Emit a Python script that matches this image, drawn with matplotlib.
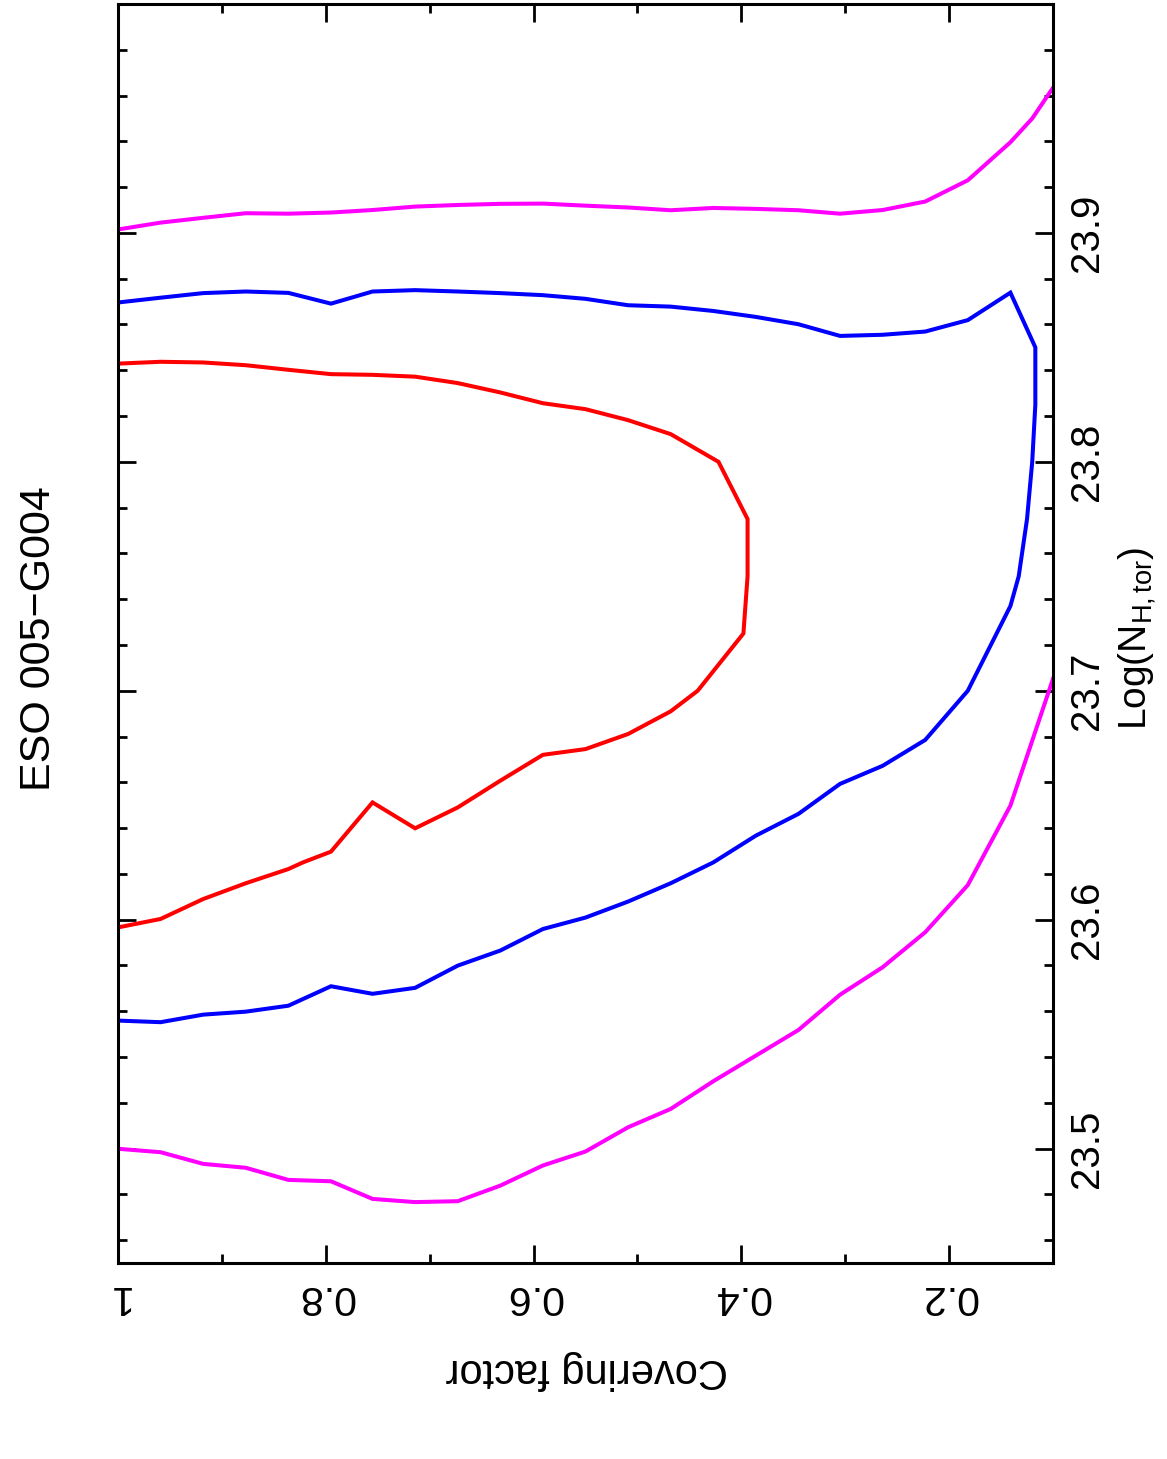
import matplotlib
matplotlib.use("Agg")
import matplotlib.pyplot as plt
from matplotlib.ticker import FixedLocator

plt.rcParams['font.family'] = ['Liberation Sans', 'DejaVu Sans']
plt.rcParams['mathtext.fontset'] = 'custom'
plt.rcParams['mathtext.rm'] = 'Liberation Sans'
plt.rcParams['mathtext.it'] = 'Liberation Sans:italic'

# ---------------- data ----------------
title = "ESO 005\u2212G004"
x_label = "Covering factor"
y_label = r"Log(N$_{\rm H,tor}$)"

cf_ticks = [1.0, 0.8, 0.6, 0.4, 0.2]
cf_ticklabels = ["1", "0.8", "0.6", "0.4", "0.2"]
cf_minor = [0.9, 0.7, 0.5, 0.3]
nh_ticks = [23.5, 23.6, 23.7, 23.8, 23.9]
nh_ticklabels = ["23.5", "23.6", "23.7", "23.8", "23.9"]
nh_minor = [23.46, 23.48, 23.52, 23.54, 23.56, 23.58, 23.62, 23.64, 23.66, 23.68,
            23.72, 23.74, 23.76, 23.78, 23.82, 23.84, 23.86, 23.88,
            23.92, 23.94, 23.96, 23.98]

# red contour
red_cf = [1.0, 0.959, 0.918, 0.877, 0.836, 0.795, 0.755, 0.714, 0.673, 0.632, 0.591, 0.55,
          0.509, 0.468, 0.422, 0.394, 0.394, 0.398, 0.442, 0.468, 0.509, 0.55, 0.591, 0.632,
          0.673, 0.714, 0.755, 0.795, 0.822, 0.836, 0.877, 0.918, 0.959, 1.0]
red_nh = [23.8429, 23.8437, 23.8434, 23.8422, 23.8402, 23.8383, 23.838, 23.8372, 23.8344,
          23.8303, 23.8256, 23.823, 23.8182, 23.8121, 23.80, 23.775, 23.75, 23.725, 23.70,
          23.691, 23.6811, 23.6745, 23.672, 23.6607, 23.649, 23.6399, 23.6512, 23.6297,
          23.625, 23.6221, 23.6159, 23.609, 23.6003, 23.5966]

# blue contour
blue_cf = [1.0, 0.959, 0.918, 0.877, 0.836, 0.795, 0.755, 0.714, 0.673, 0.632, 0.591, 0.55,
           0.509, 0.468, 0.427, 0.386, 0.345, 0.305, 0.264, 0.223, 0.182, 0.141,
           0.117, 0.117, 0.120, 0.125, 0.133, 0.141,
           0.182, 0.223, 0.264, 0.305, 0.345, 0.386, 0.427, 0.468, 0.509, 0.55, 0.591,
           0.632, 0.673, 0.714, 0.755, 0.795, 0.836, 0.877, 0.918, 0.959, 1.0]
blue_nh = [23.8696, 23.8717, 23.8737, 23.8744, 23.8738, 23.8691, 23.8744, 23.875, 23.8744,
           23.8737, 23.8728, 23.8712, 23.8684, 23.8678, 23.8659, 23.8633, 23.8601, 23.855,
           23.8555, 23.8569, 23.8619, 23.8739,
           23.85, 23.825, 23.80, 23.775, 23.75, 23.737,
           23.70, 23.6785, 23.6672, 23.6593, 23.6462, 23.6367, 23.625, 23.6159, 23.6079,
           23.6009, 23.5959, 23.5865, 23.5799, 23.5702, 23.5676, 23.5709, 23.5624, 23.5598,
           23.5585, 23.5552, 23.5559]

# magenta contour (two open branches)
mag_upper_cf = [1.0, 0.959, 0.918, 0.877, 0.836, 0.795, 0.755, 0.714, 0.673, 0.632, 0.591,
                0.55, 0.509, 0.468, 0.427, 0.386, 0.345, 0.305, 0.264, 0.223, 0.182, 0.141,
                0.12, 0.1]
mag_upper_nh = [23.9015, 23.9045, 23.9066, 23.9086, 23.9084, 23.9089, 23.910, 23.9115,
                23.9122, 23.9127, 23.9128, 23.9119, 23.9111, 23.9099, 23.9109, 23.9105,
                23.9099, 23.9084, 23.910, 23.9137, 23.923, 23.9396, 23.95, 23.9634]
mag_lower_cf = [1.0, 0.959, 0.918, 0.877, 0.836, 0.795, 0.755, 0.714, 0.673, 0.632, 0.591,
                0.55, 0.509, 0.468, 0.427, 0.386, 0.345, 0.305, 0.264, 0.223, 0.182, 0.141,
                0.1]
mag_lower_nh = [23.4999, 23.4984, 23.4933, 23.4916, 23.4863, 23.4857, 23.478, 23.4766,
                23.477, 23.4838, 23.4926, 23.4987, 23.5093, 23.5173, 23.5294, 23.5406,
                23.5518, 23.5672, 23.5792, 23.5945, 23.6151, 23.6498, 23.7052]

# ---------------- figure ----------------
W, H = 1167, 1459
fig = plt.figure(figsize=(W / 100, H / 100), dpi=100)
ax = fig.add_axes([118 / W, 1 - 1263 / H, (1053 - 118) / W, (1263 - 4) / H])

lw = 2.9
ax.plot(mag_upper_cf, mag_upper_nh, color='#ff00ff', lw=lw, solid_joinstyle='miter')
ax.plot(mag_lower_cf, mag_lower_nh, color='#ff00ff', lw=lw, solid_joinstyle='miter')
ax.plot(blue_cf, blue_nh, color='#0000ff', lw=lw, solid_joinstyle='miter')
ax.plot(red_cf, red_nh, color='#ff0000', lw=lw, solid_joinstyle='miter')

ax.set_xlim(1.0, 0.1)
ax.set_ylim(23.45, 24.0)

for s in ax.spines.values():
    s.set_linewidth(2.2)

ax.set_xticks(cf_ticks, labels=cf_ticklabels)
ax.xaxis.set_minor_locator(FixedLocator(cf_minor))
ax.set_yticks(nh_ticks, labels=nh_ticklabels)
ax.yaxis.set_minor_locator(FixedLocator(nh_minor))

ax.tick_params(which='both', direction='in', top=True, bottom=True, left=True, right=True,
               width=2.0, color='black')
ax.tick_params(which='major', length=13)
ax.tick_params(which='minor', length=6.5)
ax.tick_params(axis='x', labelbottom=True, labeltop=False, labelsize=29.5,
               labelrotation=180, pad=11)
ax.tick_params(axis='y', labelleft=False, labelright=True, labelsize=29,
               labelrotation=90, pad=11)
for t in ax.yaxis.get_major_ticks():
    t.label2.set_va('center')

fig.text(39 / W, 1 - 638.5 / H, title, rotation=90, ha='center', va='center', fontsize=31)
fig.text(1137 / W, 1 - 638.5 / H, y_label, rotation=90, ha='center', va='center', fontsize=28)
fig.text(587 / W, 1 - 1370 / H, x_label, rotation=180, ha='center', va='center', fontsize=30)

fig.savefig("out.png", dpi=100)
